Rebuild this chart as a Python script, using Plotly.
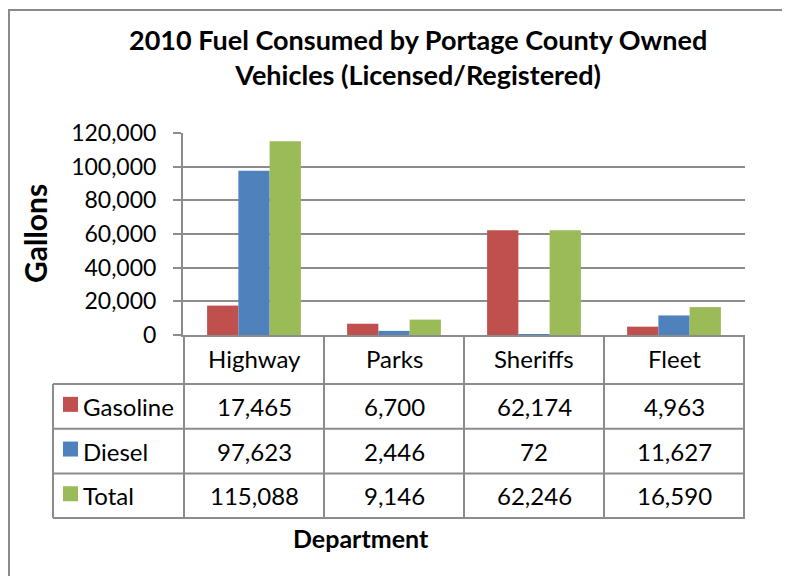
import plotly.graph_objects as go

# data
departments = ["Highway", "Parks", "Sheriffs", "Fleet"]
series_names = ["Gasoline", "Diesel", "Total"]
gasoline = [17465, 6700, 62174, 4963]
diesel = [97623, 2446, 72, 11627]
total = [115088, 9146, 62246, 16590]
y_ticks = [0, 20000, 40000, 60000, 80000, 100000, 120000]

colors = ["#C0504D", "#4F81BD", "#9BBB59"]
series_values = [gasoline, diesel, total]

W, H = 790, 576
OFF = 8  # the page body has an 8px margin
FONT = "Lato"
GRID = "#8c8c8c"

# pixel layout (page pixels) of the plot area and the data table beneath it
plot_left, plot_right = 183, 745
plot_top, plot_bottom = 133, 335
table_left = 53
row_h = 44.7
cat_row_bottom = 384


def px(x):
    return (x - OFF) / W


def py(y):
    return 1 - (y - OFF) / H


fig = go.Figure()
for name, vals, col in zip(series_names, series_values, colors):
    fig.add_trace(
        go.Bar(
            name=name,
            x=departments,
            y=vals,
            marker=dict(color=col, line=dict(width=0)),
            hovertemplate="%{x}<br>" + name + ": %{y:,}<extra></extra>",
        )
    )

shapes = []
annotations = []

# outer chart border
shapes.append(dict(type="rect", xref="paper", yref="paper",
                   x0=px(9), x1=px(W + 40), y0=py(H + 40), y1=py(10),
                   line=dict(color="#8a8a8a", width=2)))

table_bottom = cat_row_bottom + row_h * len(series_names)

# vertical lines of the table, at category boundaries
for i in range(len(departments) + 1):
    shapes.append(dict(type="line", xref="x", yref="paper",
                       x0=i - 0.5, x1=i - 0.5, y0=py(plot_bottom), y1=py(table_bottom),
                       line=dict(color=GRID, width=2)))
shapes.append(dict(type="line", xref="paper", yref="paper",
                   x0=px(table_left), x1=px(table_left),
                   y0=py(cat_row_bottom), y1=py(table_bottom),
                   line=dict(color=GRID, width=2)))

# horizontal lines of the table
for r in range(len(series_names) + 1):
    yy = cat_row_bottom + r * row_h
    shapes.append(dict(type="line", xref="paper", yref="paper",
                       x0=px(table_left), x1=px(plot_right), y0=py(yy), y1=py(yy),
                       line=dict(color=GRID, width=2)))

cell_font = dict(family=FONT, size=24, color="#000")

# category labels
for d in departments:
    annotations.append(dict(x=d, y=py((plot_bottom + cat_row_bottom) / 2 - 1), xref="x", yref="paper",
                            text=d, showarrow=False, xanchor="center", yanchor="middle",
                            font=cell_font))

# rows: legend key + values
for r, (name, vals, col) in enumerate(zip(series_names, series_values, colors)):
    yc = cat_row_bottom + (r + 0.5) * row_h
    shapes.append(dict(type="rect", xref="paper", yref="paper",
                       x0=px(63), x1=px(78), y0=py(yc + 5.5), y1=py(yc - 9.5),
                       fillcolor=col, line=dict(width=0)))
    annotations.append(dict(x=px(81), y=py(yc), xref="paper", yref="paper",
                            text=name, showarrow=False, xanchor="left", yanchor="middle",
                            font=cell_font))
    for d, v in zip(departments, vals):
        annotations.append(dict(x=d, y=py(yc), xref="x", yref="paper",
                                text=f"{v:,}", showarrow=False, xanchor="center", yanchor="middle",
                                font=cell_font))

# title and axis titles
annotations.append(dict(x=px(418), y=py(57), xref="paper", yref="paper",
                        text="<b>2010 Fuel Consumed by Portage County Owned<br>Vehicles (Licensed/Registered)</b>",
                        showarrow=False, xanchor="center", yanchor="middle",
                        font=dict(family=FONT, size=27, color="#000")))
annotations.append(dict(x=px(35), y=py(234), xref="paper", yref="paper",
                        text="<b>Gallons</b>", textangle=-90, showarrow=False,
                        xanchor="center", yanchor="middle",
                        font=dict(family=FONT, size=30, color="#000")))
annotations.append(dict(x=px(361), y=py(538), xref="paper", yref="paper",
                        text="<b>Department</b>", showarrow=False,
                        xanchor="center", yanchor="middle",
                        font=dict(family=FONT, size=25, color="#000")))

fig.update_layout(
    width=W,
    height=H,
    margin=dict(l=0, r=0, t=0, b=0),
    paper_bgcolor="white",
    plot_bgcolor="white",
    barmode="group",
    bargap=0.33,
    bargroupgap=0,
    showlegend=False,
    shapes=shapes,
    annotations=annotations,
    xaxis=dict(
        domain=[px(plot_left), px(plot_right)],
        showticklabels=False,
        ticks="",
        showline=True,
        linecolor=GRID,
        linewidth=2,
        showgrid=False,
        fixedrange=True,
        automargin=False,
    ),
    yaxis=dict(
        domain=[py(plot_bottom), py(plot_top)],
        range=[0, 120000],
        tickvals=y_ticks,
        tickformat=",",
        ticks="outside",
        ticklen=8,
        tickcolor=GRID,
        tickwidth=2,
        ticklabelstandoff=12,
        showline=True,
        linecolor=GRID,
        linewidth=2,
        showgrid=True,
        gridcolor=GRID,
        gridwidth=2,
        zeroline=False,
        tickfont=dict(family=FONT, size=23, color="#000"),
        fixedrange=True,
        automargin=False,
    ),
)

fig.write_html("out.html")
